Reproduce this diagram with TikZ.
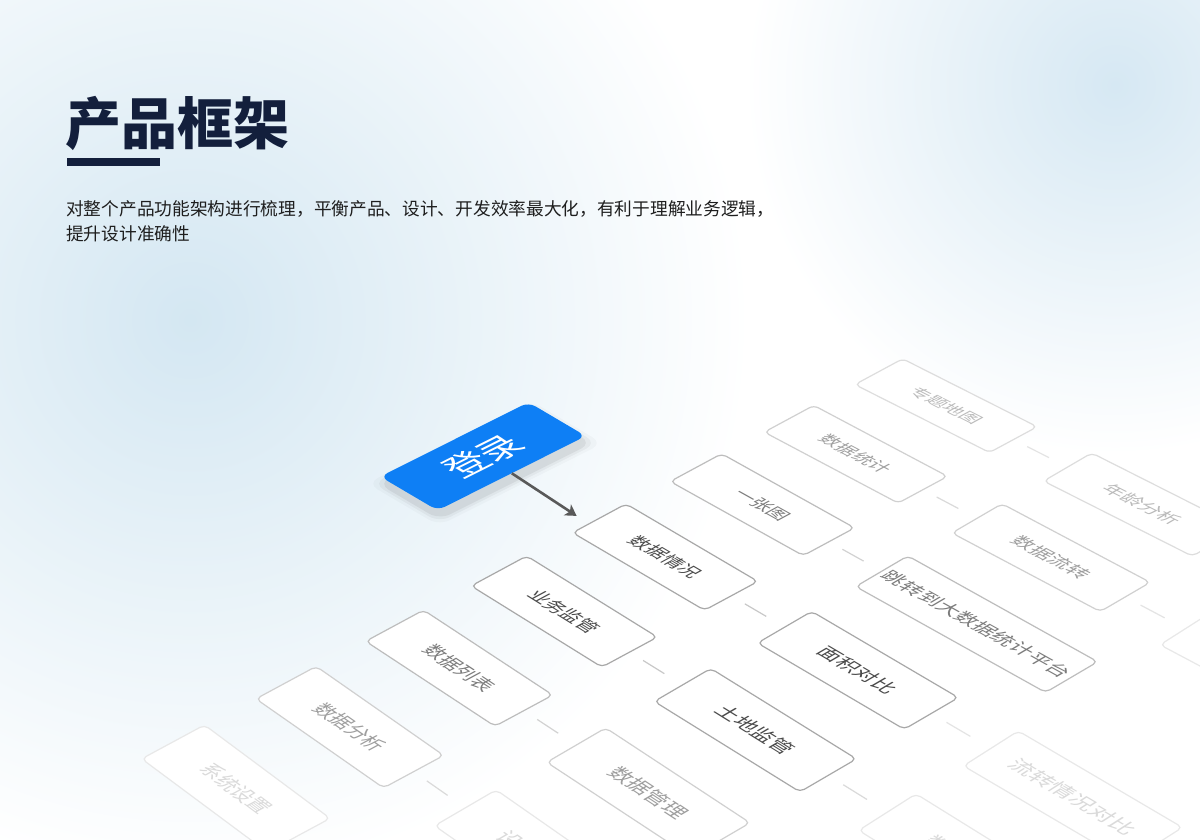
\documentclass[tikz,border=0pt]{standalone}
\usepackage{fontspec}
\newfontfamily\cjk{Noto Sans CJK SC}
\usetikzlibrary{arrows.meta,calc}
\definecolor{navy}{HTML}{131F3C}
\definecolor{desc}{HTML}{1E1E1E}
\definecolor{loginblue}{HTML}{0E7FF5}
\definecolor{glowa}{HTML}{D4E7F2}
\definecolor{glowb}{HTML}{D6E8F3}
\definecolor{arrowc}{HTML}{595959}
\definecolor{bA}{HTML}{A8A8A8}\definecolor{tA}{HTML}{4A4A4A}
\definecolor{bB}{HTML}{BDBDBD}\definecolor{tB}{HTML}{7C7C7C}
\definecolor{bC}{HTML}{D0D0D0}\definecolor{tC}{HTML}{9E9E9E}
\definecolor{bD}{HTML}{DDDDDD}\definecolor{tD}{HTML}{BABABA}
\definecolor{bE}{HTML}{E8E8E8}\definecolor{tE}{HTML}{DADADA}
\definecolor{dA}{HTML}{C8C8C8}\definecolor{dB}{HTML}{D2D2D2}
\definecolor{dC}{HTML}{DADADA}\definecolor{dD}{HTML}{E4E4E4}

% perspective map of the ground plane: column c, row k -> picture point
\newcommand\isocalc[2]{%
  \pgfmathsetmacro\isoD{1-0.0508*(#1)+0.019*(#2)}%
  \pgfmathsetmacro\isoNx{(176.1*(#1)+98.45*(#2))/\isoD}%
  \pgfmathsetmacro\isoNy{(-103.5*(#1)+51.7*(#2))/\isoD}%
  \pgfmathsetmacro\isoX{600.5+\isoNx}%
  \pgfmathsetmacro\isoY{-519+\isoNy}%
  \pgfmathsetmacro\isoAx{(176.1+0.0508*\isoNx)/(\isoD*204.27)}%
  \pgfmathsetmacro\isoAy{(-103.5+0.0508*\isoNy)/(\isoD*204.27)}%
  \pgfmathsetmacro\isoBx{(98.45-0.019*\isoNx)/(\isoD*111.2)}%
  \pgfmathsetmacro\isoBy{(51.7-0.019*\isoNy)/(\isoD*111.2)}%
}
\newcommand\isobox[6]{%
  \isocalc{#2}{#3}%
  \begin{scope}[cm={\isoAx,\isoAy,\isoBx,\isoBy,(\isoX,\isoY)}]
    \node[isob,#5,minimum width={#4*204.27pt}] (#1) at (0,0) {#6};
  \end{scope}}
\newcommand\conn[3]{\draw[#1] ($(#2.east)!0.25!(#3.west)$) -- ($(#2.east)!0.66!(#3.west)$);}

\begin{document}
\begin{tikzpicture}[x=1pt,y=1pt,
  isob/.style={draw, rectangle, rounded corners=5pt, minimum height=60pt, fill=white,
    line width=1.2pt, transform shape, inner sep=0pt, font=\cjk\fontsize{18}{18}\selectfont},
  lvA/.style={draw=bA,text=tA},
  lvB/.style={draw=bB,text=tB},
  lvC/.style={draw=bC,text=tC},
  lvD/.style={draw=bD,text=tD},
  lvE/.style={draw=bE,text=tE},
  dsA/.style={draw=dA,line width=1.2pt},
  dsB/.style={draw=dB,line width=1.2pt},
  dsC/.style={draw=dC,line width=1.2pt},
  dsD/.style={draw=dD,line width=1.2pt},
  loginbox/.style={rectangle, rounded corners=8pt, fill=loginblue, transform shape,
    minimum width=169pt, minimum height=71pt, inner sep=0pt, text=white,
    font=\cjk\fontsize{38}{38}\selectfont},
  shadowbox/.style={rectangle, rounded corners=12pt, fill=black, transform shape, inner sep=0pt},
  arrowline/.style={draw=arrowc, line width=2.6pt, -{Stealth[length=11pt,width=13pt,inset=3pt]}}
]
\useasboundingbox (0,-840) rectangle (1200,0);
\clip (0,-840) rectangle (1200,0);
\fill[white] (0,-840) rectangle (1200,0);
\shade[inner color=glowa, outer color=white] (190,-320) circle (560);
\shade[inner color=glowb, outer color=white] (1115,-85) circle (370);

% heading
\node[anchor=west, inner sep=0pt, text=navy, font=\cjk\bfseries\fontsize{56}{56}\selectfont] (title) at (65,-123) {产品框架};
\node[anchor=north west, fill=navy, inner sep=0pt, minimum width=93pt, minimum height=8pt] (bar) at (67,-158) {};
\node[anchor=west, inner sep=0pt, text=desc, font=\cjk\fontsize{17.7}{17.7}\selectfont] (d1) at (66,-209) {对整个产品功能架构进行梳理，平衡产品、设计、开发效率最大化，有利于理解业务逻辑，};
\node[anchor=west, inner sep=0pt, text=desc, font=\cjk\fontsize{17.7}{17.7}\selectfont] (d2) at (66,-234) {提升设计准确性};

% first column
\isobox{zt}{0.361}{3}{0.722}{lvD}{专题地图}
\isobox{tj}{0.361}{2}{0.722}{lvC}{数据统计}
\isobox{yz}{0.361}{1}{0.722}{lvB}{一张图}
\isobox{qk}{0.361}{0}{0.722}{lvA}{数据情况}
\isobox{yw}{0.361}{-1}{0.722}{lvA}{业务监管}
\isobox{lb}{0.361}{-2}{0.722}{lvB}{数据列表}
\isobox{fx}{0.361}{-3}{0.722}{lvC}{数据分析}
\isobox{sz}{0.361}{-4}{0.722}{lvE}{系统设置}
% second column
\isobox{nl}{1.361}{3}{0.722}{lvD}{年龄分析}
\isobox{lz}{1.361}{2}{0.722}{lvC}{数据流转}
\isobox{tz}{1.4595}{1}{0.919}{lvB}{跳转到大数据统计平台}
\isobox{mj}{1.361}{0}{0.722}{lvA}{面积对比}
\isobox{td}{1.361}{-1}{0.722}{lvA}{土地监管}
\isobox{gl}{1.361}{-2}{0.722}{lvC}{数据管理}
\isobox{sb}{1.361}{-3}{0.722}{lvE}{设备管理}
% third column
\isobox{rb}{2.361}{2}{0.722}{lvE}{}
\isobox{lq}{2.361}{0}{0.722}{lvE}{流转情况对比}
\isobox{re}{2.361}{-1}{0.722}{lvE}{数据对比}

% short connectors
\conn{dsD}{zt}{nl}
\conn{dsC}{tj}{lz}
\conn{dsB}{yz}{tz}
\conn{dsA}{qk}{mj}
\conn{dsA}{yw}{td}
\conn{dsB}{lb}{gl}
\conn{dsC}{fx}{sb}
\conn{dsD}{lz}{rb}
\conn{dsD}{mj}{lq}
\conn{dsC}{td}{re}

% login button
\isocalc{-0.655}{-0.06}
\pgfmathsetmacro\isoCx{-1*\isoAx}
\pgfmathsetmacro\isoCy{-1*\isoAy}
\foreach \s/\o in {18/0.025,11/0.04,5/0.06}{
  \begin{scope}[cm={\isoBx,\isoBy,\isoCx,\isoCy,({\isoX+2},{\isoY-7})}]
    \node[shadowbox, opacity=\o, minimum width={169+\s}, minimum height={71+\s}] (lsh\s) at (0,0) {};
  \end{scope}
}
\begin{scope}[cm={\isoBx,\isoBy,\isoCx,\isoCy,(\isoX,\isoY)}]
  \node[loginbox] (login) at (0,0) {登录};
\end{scope}
\isocalc{-0.08}{-0.10}
\coordinate (arrowend) at (\isoX,\isoY);
\draw[arrowline] (login.south) -- (arrowend);
\end{tikzpicture}
\end{document}
